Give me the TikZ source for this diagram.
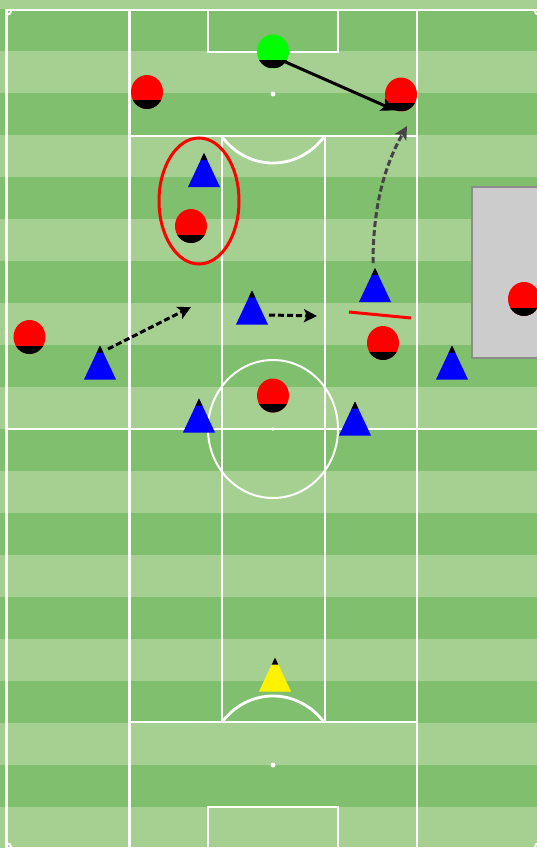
\documentclass[tikz,border=0pt]{standalone}
\usetikzlibrary{calc,shapes.geometric,arrows.meta}
\definecolor{grassdark}{RGB}{128,191,110}
\definecolor{grasslight}{RGB}{166,208,146}
\definecolor{boxgray}{RGB}{204,204,204}
\definecolor{boxedge}{RGB}{140,140,140}
\definecolor{arrowgray}{RGB}{68,68,68}
\tikzset{
  pline/.style={draw=white, line width=2.8pt},
  tri/.style={minimum width=32pt, minimum height=34pt, inner sep=0pt, outer sep=0pt,
    path picture={
      \fill[#1] (path picture bounding box.south west) -- (path picture bounding box.south east) -- (path picture bounding box.north) -- cycle;
      \fill[black] (path picture bounding box.north) -- ($(path picture bounding box.north)!0.21!(path picture bounding box.south west)$) -- ($(path picture bounding box.north)!0.21!(path picture bounding box.south east)$) -- cycle;
    }},
  plr/.style={ellipse, minimum width=32pt, minimum height=34pt, inner sep=0pt, outer sep=0pt, fill=#1,
    path picture={\fill[black] ([yshift=-8.5pt]path picture bounding box.west) rectangle (path picture bounding box.south east);}},
  pass/.style={line width=3pt, -{Stealth[length=14pt,width=13pt,inset=3pt]}},
  run/.style={line width=3pt, dash pattern=on 6pt off 3pt, -{Stealth[length=13pt,width=13pt,inset=3pt]}},
}
\begin{document}
\begin{tikzpicture}[x=1pt,y=-1pt]
\useasboundingbox (0,0) rectangle (537,848);
\clip (0,0) rectangle (537,848);
% grass
\fill[grasslight] (0,0) rectangle (537,848);
\foreach \k in {0,...,9}{
  \fill[grassdark] (0,{9+84*\k}) rectangle (537,{51+84*\k});
}
% pitch lines
\draw[pline] (6.5,10) rectangle (539.5,848);
\draw[pline] (6.5,429) -- (539.5,429);
\draw[pline] (129.5,10) -- (129.5,848);
\draw[pline] (417,10) -- (417,848);
\draw[pline] (129.5,10) rectangle (417,136);
\draw[pline] (129.5,722) rectangle (417,848);
\draw[pline] (208,10) rectangle (338,52);
\draw[pline] (208,807) rectangle (338,848);
\draw[pline] (222,136) -- (222,722);
\draw[pline] (325,136) -- (325,722);
\draw[draw=white, line width=2pt] (273,429) ellipse [x radius=65, y radius=69];
\begin{scope}
  \clip (100,137) rectangle (450,200);
  \draw[draw=white, line width=2.8pt] (273,94) ellipse [x radius=65, y radius=69];
\end{scope}
\begin{scope}
  \clip (100,650) rectangle (450,721);
  \draw[draw=white, line width=2.8pt] (273,765) ellipse [x radius=65, y radius=69];
\end{scope}
\fill[white] (273,94) circle [radius=2.5];
\fill[white] (273,765) circle [radius=2.5];
\fill[white] (273,429) circle [radius=1.8];
\draw[draw=white, line width=2pt] (6.5,15) arc[start angle=90,end angle=0,radius=5];
\draw[draw=white, line width=2pt] (534.5,10) arc[start angle=180,end angle=90,radius=5];
\draw[draw=white, line width=2pt] (6.5,843) arc[start angle=-90,end angle=0,radius=5];
\draw[draw=white, line width=2pt] (534.5,848) arc[start angle=180,end angle=270,radius=5];
% gray box
\draw[fill=boxgray, draw=boxedge, line width=1.5pt] (472,187) rectangle (560,358);
% players
\node[plr=green] (gk) at (273,51.5) {};
\node[plr=red] (r1) at (147,92) {};
\node[plr=red] (r2) at (401,94.5) {};
\node[plr=red] (r3) at (191,226) {};
\node[plr=red] (r4) at (29.5,337) {};
\node[plr=red] (r5) at (383,343) {};
\node[plr=red] (r6) at (273,395.5) {};
\node[plr=red] (r7) at (524,299) {};
\node[tri=blue] (b1) at (204,170) {};
\node[tri=blue] (b2) at (100,362.5) {};
\node[tri=blue] (b3) at (252,307.5) {};
\node[tri=blue] (b4) at (375,285) {};
\node[tri=blue] (b5) at (452,362.5) {};
\node[tri=blue] (b6) at (199,415.5) {};
\node[tri=blue] (b7) at (355,418.5) {};
\node[tri=yellow] (ky) at (275,674.5) {};
% marks
\draw[red, line width=3pt] (199,201) ellipse [x radius=40, y radius=63];
\draw[red, line width=3pt] (349,312) -- (411,318);
% arrows
\coordinate (t1) at (191,307);
\coordinate (t2) at (317,316);
\coordinate (t3) at (407,126);
\draw[pass] (gk.-40) -- (r2.250);
\draw[run] ([xshift=8pt,yshift=-3.5pt]b2.north) -- (t1);
\draw[run] ([xshift=17pt,yshift=-24.5pt]b3.north) -- (t2);
\draw[run, draw=arrowgray] ([xshift=-2pt,yshift=5pt]b4.north) .. controls (373,205) and (385,165) .. (t3);
\end{tikzpicture}
\end{document}
